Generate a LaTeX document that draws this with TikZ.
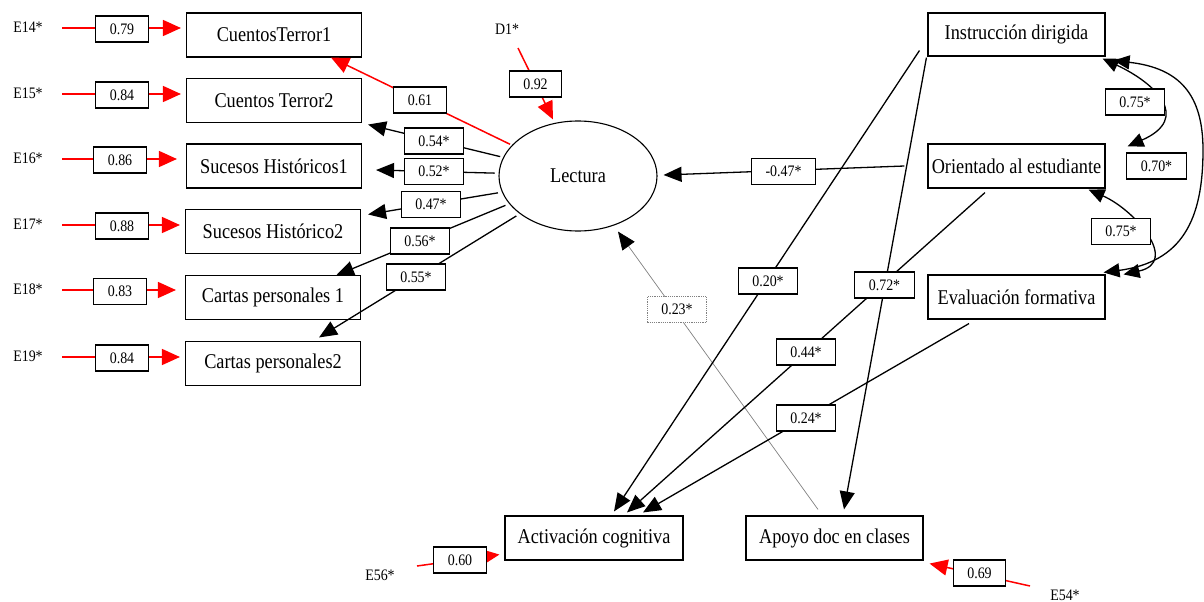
\documentclass[tikz,border=0pt]{standalone}
\usepackage{fontspec}
\setmainfont{Liberation Serif}
\newfontfamily\tnr[FakeStretch=0.87]{Liberation Serif}
\usetikzlibrary{arrows.meta,shapes.geometric,calc}
\begin{document}
\begin{tikzpicture}[x=1pt,y=-1pt,
  obs/.style={draw,line width=1.1pt,minimum width=175pt,minimum height=44pt,inner sep=0pt,font=\tnr\fontsize{21}{23}\selectfont},
  lat/.style={draw,ellipse,line width=1.1pt,minimum width=158pt,minimum height=110pt,inner sep=0pt,font=\tnr\fontsize{21}{23}\selectfont},
  lab/.style={draw,fill=white,line width=1.2pt,inner xsep=14pt,inner ysep=0pt,minimum height=26pt,font=\tnr\fontsize{16}{18}\selectfont},
  dotlab/.style={lab,draw=gray,densely dotted,line width=0.7pt},
  etxt/.style={inner sep=0pt,font=\tnr\fontsize{16}{18}\selectfont},
  blk/.style={draw=black,line width=1.3pt,-{Triangle[length=18pt,width=15pt]}},
  gry/.style={draw=gray,line width=0.7pt,-{Triangle[length=18pt,width=15pt,color=black]}},
  redarr/.style={draw=red,line width=1.5pt,-{Triangle[length=18pt,width=16pt]}},
  cov/.style={draw=black,line width=1.3pt,{Triangle[length=16pt,width=14pt]}-{Triangle[length=16pt,width=14pt]}},
]
\useasboundingbox (0,0) rectangle (1204,602);

% observed variables (left)
\node[obs] (ct1) at (274,35) {CuentosTerror1};
\node[obs] (ct2) at (274,100.5) {Cuentos Terror2};
\node[obs] (sh1) at (274,166) {Sucesos Históricos1};
\node[obs] (sh2) at (273,231.5) {Sucesos Histórico2};
\node[obs] (cp1) at (273,297.5) {Cartas personales 1};
\node[obs] (cp2) at (273,363.5) {Cartas personales2};
% right
\node[obs,minimum width=177pt,minimum height=43pt] (ins) at (1016.5,34.5) {Instrucción dirigida};
\node[obs,minimum width=177pt] (ori) at (1016.5,166) {Orientado al estudiante};
\node[obs,minimum width=177pt] (eva) at (1016.5,297) {Evaluación formativa};
% bottom
\node[obs,minimum width=178pt] (act) at (594,538) {Activación cognitiva};
\node[obs,minimum width=177pt] (apo) at (834.5,538) {Apoyo doc en clases};
% latent
\node[lat] (lec) at (578,176) {Lectura};

% error terms
\node[etxt] (e14) at (28,27) {E14*};
\node[etxt] (e15) at (28,93) {E15*};
\node[etxt] (e16) at (28,158) {E16*};
\node[etxt] (e17) at (28,224) {E17*};
\node[etxt] (e18) at (28,289.5) {E18*};
\node[etxt] (e19) at (28,356) {E19*};
\node[etxt] (d1) at (507,29) {D1*};
\node[etxt] (e56) at (380,575) {E56*};
\node[etxt] (e54) at (1065,595) {E54*};

% error arrows
\draw[redarr] ($(e14.center)+(34,1)$) -- ($(ct1.west)+(-5,-7)$);
\draw[redarr] ($(e15.center)+(34,1)$) -- ($(ct2.west)+(-5,-6.5)$);
\draw[redarr] ($(e16.center)+(34,1)$) -- ($(sh1.west)+(-9,-7)$);
\draw[redarr] ($(e17.center)+(34,1)$) -- ($(sh2.west)+(-5,-6.5)$);
\draw[redarr] ($(e18.center)+(34,0.5)$) -- ($(cp1.west)+(-9,-7.5)$);
\draw[redarr] ($(e19.center)+(34,1)$) -- ($(cp2.west)+(-5,-6.5)$);
\draw[redarr] ($(d1.center)+(11,19)$) -- ($(lec.north)+(-25,-1)$);
\draw[redarr] ($(e56.center)+(37,-9)$) -- ($(act.south west)+(-5,-6)$);
\draw[redarr] ($(e54.center)+(-35,-9)$) -- ($(apo.south east)+(6,3)$);

% loadings
\draw[redarr,shorten <=2pt] (lec.155) -- ($(ct1.south east)+(-31,0)$);
\draw[blk,shorten <=3pt] (lec.166) -- ($(ct2.south east)+(6,1.5)$);
\draw[blk,shorten <=4pt] (lec.178) -- ($(sh1.east)+(14,4)$);
\draw[blk,shorten <=4pt] (lec.192) -- ($(sh2.north east)+(7,5.5)$);
\draw[blk,shorten <=4pt] (lec.202) -- ($(cp1.north east)+(-25,0.5)$);
\draw[blk,shorten <=4pt] (lec.213) -- ($(cp2.north east)+(-42,-3.5)$);

% structural paths
\draw[blk] ($(ori.west)+(-23,0)$) -- ($(lec.east)+(6,-1)$);
\draw[gry] ($(apo.north)+(-16.5,-6)$) -- ($(lec.south)+(40,0)$);
\draw[blk] ($(ins.south west)+(-8,-6)$) -- ($(act.north)+(20,-4)$);
\draw[blk] ($(ins.south west)+(-1,1)$) -- ($(apo.north)+(9.5,-6)$);
\draw[blk] ($(ori.south)+(-31.5,4)$) -- ($(act.north)+(33,-3)$);
\draw[blk] ($(eva.south)+(-47.5,4)$) -- ($(act.north)+(49,-3)$);

% covariances
\draw[cov] ($(ins.south east)+(-3,2)$) .. controls (1155,83) and (1192,118) .. ($(ori.north east)+(22,3)$);
\draw[cov] ($(ins.south east)+(8,4)$) .. controls (1180,68) and (1203,95) .. (1203,150) .. controls (1203,220) and (1182,262) .. ($(eva.north east)+(-2,-2)$);
\draw[cov] ($(ori.south east)+(-17,1)$) .. controls (1135,210) and (1180,262) .. ($(eva.north east)+(18,0)$);

% labels
\node[lab] (l14) at (122,29) {0.79};
\node[lab] (l15) at (122,95) {0.84};
\node[lab] (l16) at (120,160) {0.86};
\node[lab] (l17) at (122,226) {0.88};
\node[lab] (l18) at (120,291.5) {0.83};
\node[lab] (l19) at (122,358) {0.84};
\node[lab] (l92) at (535.5,84) {0.92};
\node[lab] (l61) at (420,100) {0.61};
\node[lab] (l54) at (434,141) {0.54*};
\node[lab] (l52) at (434,171.5) {0.52*};
\node[lab] (l47) at (431,204.5) {0.47*};
\node[lab] (l56) at (420,241) {0.56*};
\node[lab] (l55) at (416,277) {0.55*};
\node[lab] (l047) at (783.5,171.5) {-0.47*};
\node[dotlab] (l23) at (677,309.5) {0.23*};
\node[lab] (l20) at (768,281) {0.20*};
\node[lab] (l72) at (884.5,285) {0.72*};
\node[lab] (l44) at (806,352) {0.44*};
\node[lab] (l24) at (806,418) {0.24*};
\node[lab] (l60) at (460,560) {0.60};
\node[lab] (l69) at (979.5,573) {0.69};
\node[lab] (c1) at (1135,102) {0.75*};
\node[lab] (c2) at (1156.5,166) {0.70*};
\node[lab] (c3) at (1121,231.5) {0.75*};
\end{tikzpicture}
\end{document}
